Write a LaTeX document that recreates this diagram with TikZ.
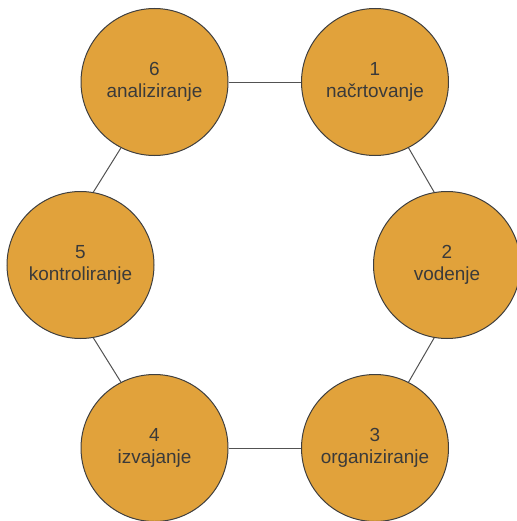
\documentclass[tikz,border=0pt]{standalone}
\usepackage{fontspec}
\setmainfont{Liberation Sans}
\definecolor{fillc}{HTML}{E1A23B}
\definecolor{linec}{HTML}{3F3F3F}
\definecolor{textc}{HTML}{3A3A3A}
\begin{document}
\begin{tikzpicture}[x=0.75pt,y=-0.75pt,
  stage/.style={circle,draw=linec,line width=0.75pt,fill=fillc,minimum size=110.25pt,inner sep=0pt,
    align=center,text=textc,font=\fontsize{14.2}{16.5}\selectfont},
  link/.style={draw=linec!90,line width=0.75pt}]
\useasboundingbox (0,0) rectangle (517,521);
\node[stage] (n6) at (154.5,82) {6\\analiziranje};
\node[stage] (n1) at (375,82) {1\\načrtovanje};
\node[stage] (n2) at (447,265) {2\\vodenje};
\node[stage] (n3) at (375,448) {3\\organiziranje};
\node[stage] (n4) at (154.5,448) {4\\izvajanje};
\node[stage] (n5) at (80.5,265) {5\\kontroliranje};
\draw[link] (n6) -- (n1);
\draw[link] (n1.-63) -- (n2.100);
\draw[link] (n2.-100) -- (n3.63);
\draw[link] (n3) -- (n4);
\draw[link] (n4.117) -- (n5.-80);
\draw[link] (n5.80) -- (n6.-117);
\end{tikzpicture}
\end{document}
